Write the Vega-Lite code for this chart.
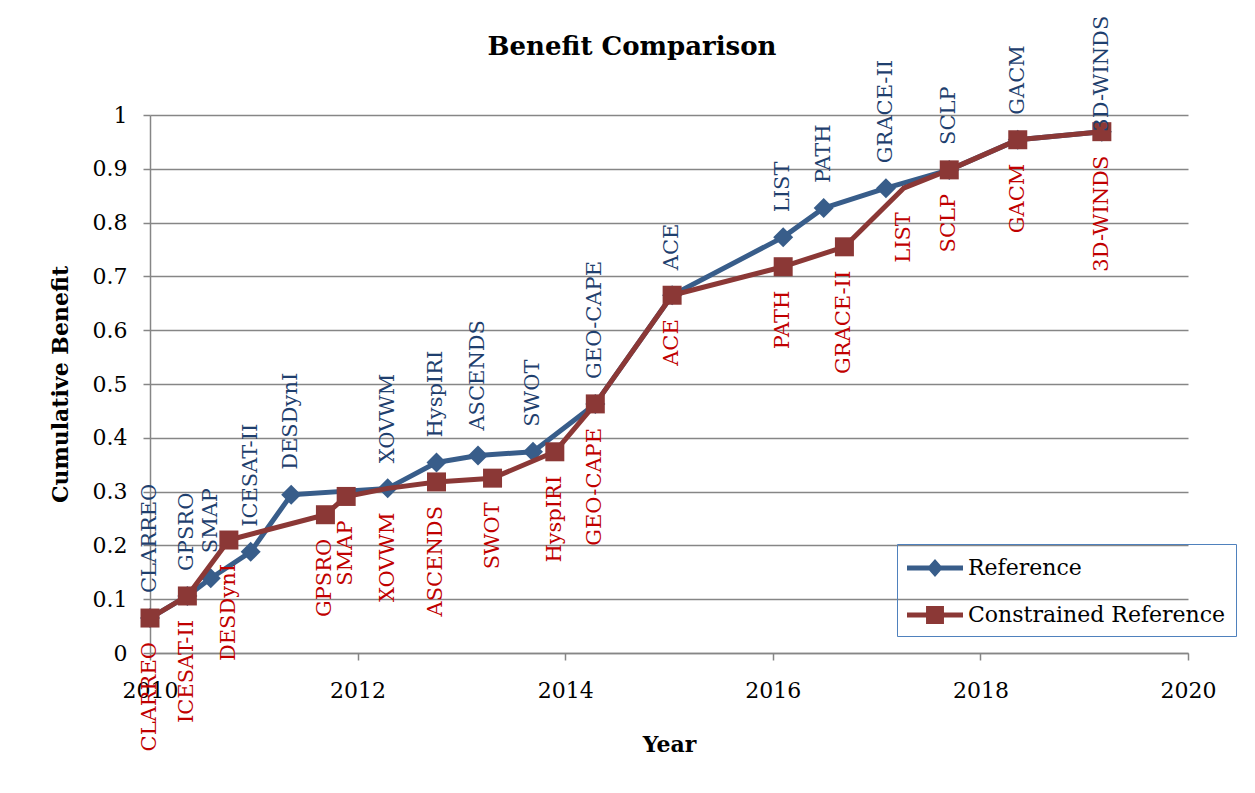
{
  "$schema": "https://vega.github.io/schema/vega-lite/v6.json",
  "width": 1038,
  "height": 538,
  "autosize": {"type": "none"},
  "padding": {"left": 150, "top": 115, "right": 67, "bottom": 140},
  "background": "white",
  "config": {"view": {"stroke": null}},
  "title": {"text": "Benefit Comparison", "font": "DejaVu Serif", "fontSize": 26, "fontWeight": "bold", "color": "black", "anchor": "middle", "frame": "group", "dx": -37, "offset": -44},
  "data": {"values": [
    {"series": "Reference", "mission": "CLARREO", "year": 2010.0, "benefit": 0.065},
    {"series": "Reference", "mission": "GPSRO", "year": 2010.36, "benefit": 0.106},
    {"series": "Reference", "mission": "SMAP", "year": 2010.585, "benefit": 0.139},
    {"series": "Reference", "mission": "ICESAT-II", "year": 2010.97, "benefit": 0.188},
    {"series": "Reference", "mission": "DESDynI", "year": 2011.36, "benefit": 0.294},
    {"series": "Reference", "mission": "XOVWM", "year": 2012.29, "benefit": 0.306},
    {"series": "Reference", "mission": "HyspIRI", "year": 2012.76, "benefit": 0.354},
    {"series": "Reference", "mission": "ASCENDS", "year": 2013.16, "benefit": 0.367},
    {"series": "Reference", "mission": "SWOT", "year": 2013.69, "benefit": 0.374},
    {"series": "Reference", "mission": "GEO-CAPE", "year": 2014.29, "benefit": 0.463},
    {"series": "Reference", "mission": "ACE", "year": 2015.03, "benefit": 0.665},
    {"series": "Reference", "mission": "LIST", "year": 2016.10, "benefit": 0.773},
    {"series": "Reference", "mission": "PATH", "year": 2016.49, "benefit": 0.827},
    {"series": "Reference", "mission": "GRACE-II", "year": 2017.09, "benefit": 0.864},
    {"series": "Reference", "mission": "SCLP", "year": 2017.70, "benefit": 0.898},
    {"series": "Reference", "mission": "GACM", "year": 2018.36, "benefit": 0.954},
    {"series": "Reference", "mission": "3D-WINDS", "year": 2019.17, "benefit": 0.969},
    {"series": "Constrained Reference", "mission": "CLARREO", "year": 2010.0, "benefit": 0.065},
    {"series": "Constrained Reference", "mission": "ICESAT-II", "year": 2010.36, "benefit": 0.106},
    {"series": "Constrained Reference", "mission": "DESDynI", "year": 2010.76, "benefit": 0.210},
    {"series": "Constrained Reference", "mission": "GPSRO", "year": 2011.69, "benefit": 0.257},
    {"series": "Constrained Reference", "mission": "SMAP", "year": 2011.89, "benefit": 0.291},
    {"series": "Constrained Reference", "mission": "XOVWM", "year": 2012.29, "benefit": 0.306},
    {"series": "Constrained Reference", "mission": "ASCENDS", "year": 2012.76, "benefit": 0.318},
    {"series": "Constrained Reference", "mission": "SWOT", "year": 2013.30, "benefit": 0.325},
    {"series": "Constrained Reference", "mission": "HyspIRI", "year": 2013.90, "benefit": 0.374},
    {"series": "Constrained Reference", "mission": "GEO-CAPE", "year": 2014.29, "benefit": 0.463},
    {"series": "Constrained Reference", "mission": "ACE", "year": 2015.03, "benefit": 0.665},
    {"series": "Constrained Reference", "mission": "PATH", "year": 2016.10, "benefit": 0.718},
    {"series": "Constrained Reference", "mission": "GRACE-II", "year": 2016.69, "benefit": 0.755},
    {"series": "Constrained Reference", "mission": "LIST", "year": 2017.26, "benefit": 0.864},
    {"series": "Constrained Reference", "mission": "SCLP", "year": 2017.70, "benefit": 0.898},
    {"series": "Constrained Reference", "mission": "GACM", "year": 2018.36, "benefit": 0.954},
    {"series": "Constrained Reference", "mission": "3D-WINDS", "year": 2019.17, "benefit": 0.969}
  ]},
  "encoding": {
    "x": {"field": "year", "type": "quantitative",
      "scale": {"domain": [2010, 2020], "nice": false, "zero": false},
      "axis": {"values": [2010, 2012, 2014, 2016, 2018, 2020], "format": "d", "grid": false,
        "labelFlush": false, "labelOverlap": false,
        "domainColor": "#868686", "domainWidth": 1.5, "tickColor": "#868686", "tickWidth": 1.5, "tickSize": 7,
        "labelFont": "DejaVu Serif", "labelFontSize": 22, "labelColor": "black", "labelPadding": 20,
        "title": "Year", "titleFont": "DejaVu Serif", "titleFontSize": 22, "titleFontWeight": "bold", "titleColor": "black", "titlePadding": 33}},
    "y": {"field": "benefit", "type": "quantitative",
      "scale": {"domain": [0, 1], "nice": false},
      "axis": {"values": [0, 0.1, 0.2, 0.3, 0.4, 0.5, 0.6, 0.7, 0.8, 0.9, 1], "format": ".1~f",
        "grid": true, "gridColor": "#868686", "gridWidth": 1.5,
        "domainColor": "#868686", "domainWidth": 1.5, "tickColor": "#868686", "tickWidth": 1.5, "tickSize": 7,
        "labelFont": "DejaVu Serif", "labelFontSize": 22, "labelColor": "black", "labelPadding": 16, "labelFlush": false,
        "title": "Cumulative Benefit", "titleFont": "DejaVu Serif", "titleFontSize": 22, "titleFontWeight": "bold", "titleColor": "black", "titlePadding": 20}},
    "color": {"field": "series", "type": "nominal",
      "scale": {"domain": ["Reference", "Constrained Reference"], "range": ["#385d8a", "#8b3836"]},
      "legend": {"title": null, "orient": "none", "legendX": 747, "legendY": 429,
        "strokeColor": "#4f81bd", "padding": 10,
        "labelFont": "DejaVu Serif", "labelFontSize": 22, "labelColor": "black", "labelOffset": 33, "labelLimit": 400,
        "symbolSize": 784, "rowPadding": 22, "symbolStrokeWidth": 0,
        "encode": {"symbols": {"update": {
          "shape": {"signal": "datum.value === 'Reference' ? 'M-1,-0.18 L0.59,-0.18 L1,-0.64 L1.41,-0.18 L3,-0.18 L3,0.18 L1.41,0.18 L1,0.64 L0.59,0.18 L-1,0.18 Z' : 'M-1,-0.18 L0.36,-0.18 L0.36,-0.64 L1.64,-0.64 L1.64,-0.18 L3,-0.18 L3,0.18 L1.64,0.18 L1.64,0.64 L0.36,0.64 L0.36,0.18 L-1,0.18 Z'"},
          "fill": {"signal": "datum.value === 'Reference' ? '#385d8a' : '#8b3836'"},
          "strokeWidth": {"value": 0},
          "opacity": {"value": 1}}}}}}
  },
  "layer": [
    {"transform": [{"filter": "datum.series === 'Reference'"}],
     "mark": {"type": "line", "strokeWidth": 5, "strokeJoin": "round", "strokeCap": "round"}},
    {"transform": [{"filter": "datum.series === 'Reference'"}],
     "mark": {"type": "point", "shape": "diamond", "filled": true, "size": 400, "opacity": 1}},
    {"transform": [{"filter": "datum.series === 'Constrained Reference'"}],
     "mark": {"type": "line", "strokeWidth": 5, "strokeJoin": "round", "strokeCap": "round"}},
    {"transform": [{"filter": "datum.series === 'Constrained Reference' && datum.mission !== 'XOVWM' && datum.mission !== 'LIST'"}],
     "mark": {"type": "point", "shape": "square", "filled": true, "size": 361, "opacity": 1}},
    {"transform": [{"filter": "datum.series === 'Reference'"}],
     "mark": {"type": "text", "angle": 270, "align": "left", "baseline": "middle", "font": "DejaVu Serif", "fontSize": 21,
       "dx": {"expr": "datum.mission === '3D-WINDS' ? 0 : 25"}},
     "encoding": {"text": {"field": "mission"}, "color": {"value": "#1f3f6e"}}},
    {"transform": [{"filter": "datum.series === 'Constrained Reference'"}],
     "mark": {"type": "text", "angle": 270, "align": "right", "baseline": "middle", "font": "DejaVu Serif", "fontSize": 21, "dx": -24},
     "encoding": {"text": {"field": "mission"}, "color": {"value": "#c00000"}}}
  ]
}
